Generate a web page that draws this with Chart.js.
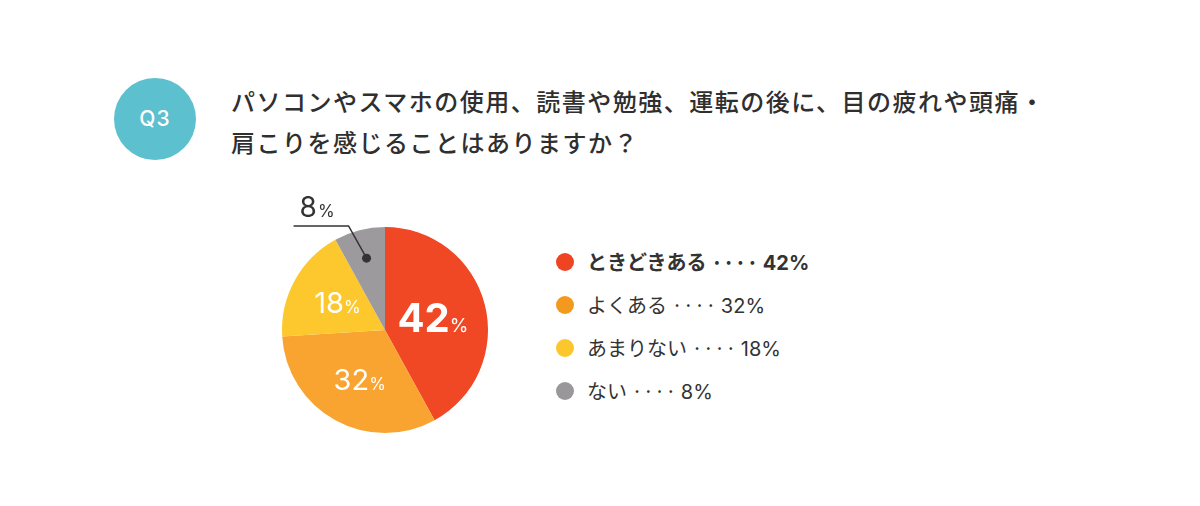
<!DOCTYPE html>
<html lang="ja">
<head>
<meta charset="utf-8">
<script src="https://cdn.jsdelivr.net/npm/chart.js@4"></script>
<style>
  html, body { margin: 0; padding: 0; background: #fff; }
  body { width: 1200px; height: 506px; position: relative; overflow: hidden;
         font-family: "Noto Sans CJK JP", "Noto Sans", sans-serif; color: #333; }
  #badge { position: absolute; left: 114px; top: 78px; width: 82px; height: 82px; border-radius: 50%;
           background: #5cc0cf; color: #fff; font-family: Inter, "Noto Sans", sans-serif;
           font-size: 21px; font-weight: 500; line-height: 82px; text-align: center; letter-spacing: 1px; }
  #title { position: absolute; left: 231px; top: 80px; font-size: 24px; line-height: 41px;
           letter-spacing: 1.5px; color: #2f2f2f; margin: 0; font-weight: 500; }
  #pieBox { position: absolute; left: 232px; top: 180px; width: 306px; height: 300px; }
  #legend { position: absolute; left: 556px; top: 240px; margin: 0; padding: 0; list-style: none; }
  #legend li { height: 43px; display: flex; align-items: center; font-size: 20px; color: #333; white-space: nowrap; }
  #legend li .dot { width: 18px; height: 18px; border-radius: 50%; margin-right: 13px; }
  #legend li .num { font-family: Inter, "Noto Sans", sans-serif; }
  #legend li.main { font-weight: 700; }
</style>
</head>
<body>
<div id="badge">Q3</div>
<h1 id="title">パソコンやスマホの使用、読書や勉強、運転の後に、目の疲れや頭痛・<br>肩こりを感じることはありますか？</h1>
<div id="pieBox"><canvas id="pieChart"></canvas></div>
<ul id="legend"></ul>
<script>
// ========== データ ==========
const labels = ['ときどきある', 'よくある', 'あまりない', 'ない'];
const values = [42, 32, 18, 8];
const sliceColors = ['#f04724', '#f9a330', '#fcc82e', '#9d9a9d'];
const dotColors = ['#ee4424', '#f39a1e', '#fcc72c', '#9a979a'];

// 凡例 (HTML)
const legend = document.getElementById('legend');
labels.forEach((label, i) => {
    legend.innerHTML += `<li class="${i === 0 ? 'main' : ''}">
        <span class="dot" style="background:${dotColors[i]}"></span>
        <span>${label} ···· <span class="num">${values[i]}%</span></span>
    </li>`;
});

// スライスの上にパーセントを描く
const sliceLabels = {
    id: 'sliceLabels',
    afterDatasetsDraw(chart) {
        const ctx = chart.ctx;
        const arcs = chart.getDatasetMeta(0).data;
        const numFont = 'Inter, "Noto Sans", sans-serif';
        ctx.save();
        arcs.forEach((arc, i) => {
            const v = values[i];
            if (i === 3) {
                // 小さいスライス: 引き出し線
                const cx = arc.x, cy = arc.y;
                const ang = (arc.startAngle + arc.endAngle) / 2;
                const dx = cx + Math.cos(ang) * arc.outerRadius * 0.72;
                const dy = cy + Math.sin(ang) * arc.outerRadius * 0.72;
                const topY = cy - arc.outerRadius - 1;
                ctx.strokeStyle = '#333';
                ctx.lineWidth = 1.5;
                ctx.beginPath();
                ctx.moveTo(dx, dy);
                ctx.lineTo(dx - 18, topY);
                ctx.lineTo(dx - 73, topY);
                ctx.stroke();
                ctx.fillStyle = '#333';
                ctx.beginPath();
                ctx.arc(dx, dy, 4.5, 0, Math.PI * 2);
                ctx.fill();
                ctx.textBaseline = 'alphabetic';
                ctx.textAlign = 'left';
                ctx.font = `400 28px ${numFont}`;
                ctx.fillText(String(v), dx - 67, topY - 9);
                const w = ctx.measureText(String(v)).width;
                ctx.font = `400 17px ${numFont}`;
                ctx.fillText('%', dx - 67 + w + 1, topY - 9);
                return;
            }
            const ang = (arc.startAngle + arc.endAngle) / 2;
            const rr = arc.outerRadius * (i === 0 ? 0.46 : 0.55);
            const px = arc.x + Math.cos(ang) * rr;
            const py = arc.y + Math.sin(ang) * rr;
            const big = i === 0 ? 40 : 29;
            const small = i === 0 ? 19 : 17;
            ctx.fillStyle = '#fff';
            ctx.textBaseline = 'alphabetic';
            ctx.textAlign = 'left';
            ctx.font = `${i === 0 ? 700 : 400} ${big}px ${numFont}`;
            const w1 = ctx.measureText(String(v)).width;
            ctx.font = `400 ${small}px ${numFont}`;
            const w2 = ctx.measureText('%').width;
            const x0 = px - (w1 + w2) / 2 + 2;
            const base = py + big * 0.34;
            ctx.font = `${i === 0 ? 700 : 400} ${big}px ${numFont}`;
            ctx.fillText(String(v), x0, base);
            ctx.font = `400 ${small}px ${numFont}`;
            ctx.fillText('%', x0 + w1, base);
        });
        ctx.restore();
    }
};

new Chart(document.getElementById('pieChart'), {
    type: 'pie',
    data: {
        labels: labels,
        datasets: [{
            data: values,
            backgroundColor: sliceColors,
            borderWidth: 0
        }]
    },
    options: {
        responsive: true,
        maintainAspectRatio: false,
        animation: false,
        layout: { padding: { left: 50, right: 50, top: 47, bottom: 47 } },
        plugins: {
            legend: { display: false },
            tooltip: { enabled: false }
        }
    },
    plugins: [sliceLabels]
});
</script>
</body>
</html>
